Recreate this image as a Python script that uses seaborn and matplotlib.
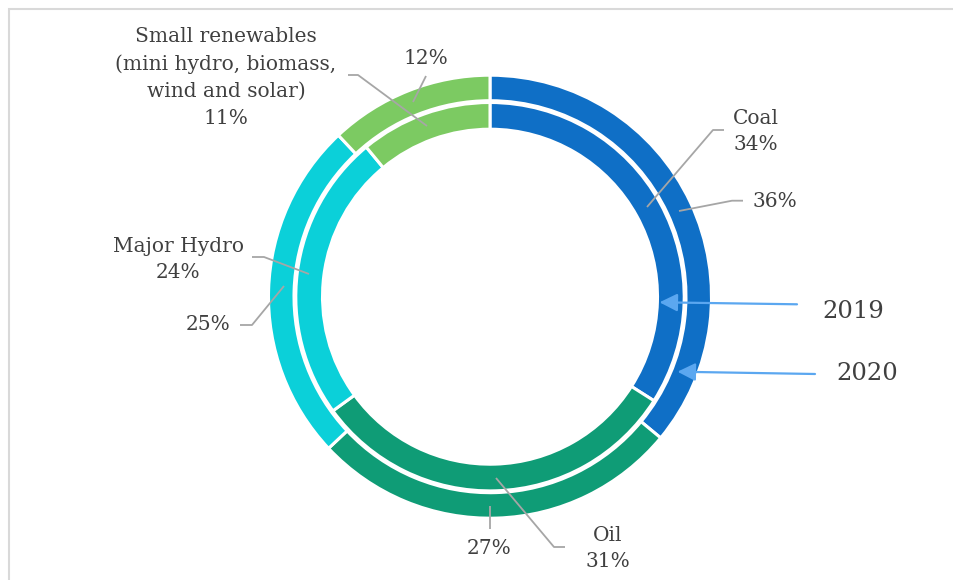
import matplotlib
matplotlib.use("Agg")
import matplotlib.pyplot as plt
import seaborn as sns
from matplotlib.patches import Rectangle

sns.set_theme(style="white")
plt.rcParams['font.family'] = ['DejaVu Serif', 'DejaVu Sans']

# ---- data ----
categories = ["Coal", "Oil", "Major Hydro",
              "Small renewables\n(mini hydro, biomass,\nwind and solar)"]
values_2019 = [34, 31, 24, 11]   # inner ring
values_2020 = [36, 27, 25, 12]   # outer ring
years = ["2019", "2020"]
colors = sns.color_palette(["#0F6FC6", "#0F9C76", "#0BD0D9", "#7CCA62"])

W, H = 954, 580
fig = plt.figure(figsize=(W / 100, H / 100), dpi=100)
ax = fig.add_axes([0, 0, 1, 1])

def P(x, y):
    """pixel (top-left origin) -> axes data coords"""
    return (x, H - y)

cx, cy = P(490, 296.7)
wedge_kw = dict(edgecolor="white", linewidth=2.2)

ax.pie(values_2020, radius=221.5, center=(cx, cy), colors=colors,
       startangle=90, counterclock=False,
       wedgeprops=dict(width=25.5, **wedge_kw))
ax.pie(values_2019, radius=194.2, center=(cx, cy), colors=colors,
       startangle=90, counterclock=False,
       wedgeprops=dict(width=26.7, **wedge_kw))

ax.set_xlim(0, W)
ax.set_ylim(0, H)
ax.set_aspect("equal")
ax.axis("off")

tc = "#404040"
lc = "#A6A6A6"
fs = 14.5

def label(text, x, y):
    ax.text(*P(x, y), text, ha="center", va="center", fontsize=fs,
            color=tc, linespacing=1.53)

def leader(pts):
    xs = [p[0] for p in pts]
    ys = [H - p[1] for p in pts]
    ax.plot(xs, ys, color=lc, lw=1.3, solid_capstyle="butt")

# inner ring (2019) labels
label(f"{categories[3]}\n{values_2019[3]}%", 226, 77.5)
leader([(348, 75), (358, 75), (427, 126)])
label(f"{categories[0]}\n{values_2019[0]}%", 756, 131.5)
leader([(724, 130), (713, 130), (647, 207)])
label(f"{categories[2]}\n{values_2019[2]}%", 178.5, 259.5)
leader([(252, 257), (264, 257), (309, 274)])
label(f"{categories[1]}\n{values_2019[1]}%", 608, 548.5)
leader([(496, 478), (554, 547), (565, 547)])

# outer ring (2020) labels
label(f"{values_2020[3]}%", 426, 59)
leader([(426, 76), (413, 102)])
label(f"{values_2020[0]}%", 775, 201.7)
leader([(743, 200.7), (732, 200.7), (679, 211)])
label(f"{values_2020[2]}%", 208, 325)
leader([(240, 325), (252, 325), (284, 286)])
label(f"{values_2020[1]}%", 489, 549)
leader([(490, 506), (490, 529)])

# year arrows
ac = "#5BA7F0"
for yr, tip, tail, tpos in [(years[0], (659.5, 302.3), (797, 304.3), (853, 312)),
                            (years[1], (677.5, 371.7), (815, 374), (867, 374))]:
    ax.annotate("", xy=P(*tip), xytext=P(*tail),
                arrowprops=dict(arrowstyle="-|>,head_length=0.9,head_width=0.45",
                                color=ac, lw=1.6, shrinkA=0, shrinkB=0))
    ax.text(*P(*tpos), yr, ha="center", va="center", fontsize=17.5, color=tc)

# chart frame (cut off at right/bottom)
fig.patches.append(Rectangle((9.5 / W, -0.1), 1.2, (H - 8.5) / H + 0.1,
                             transform=fig.transFigure, fill=False,
                             edgecolor="#D9D9D9", linewidth=1.5))

fig.savefig("out.png", dpi=100)
